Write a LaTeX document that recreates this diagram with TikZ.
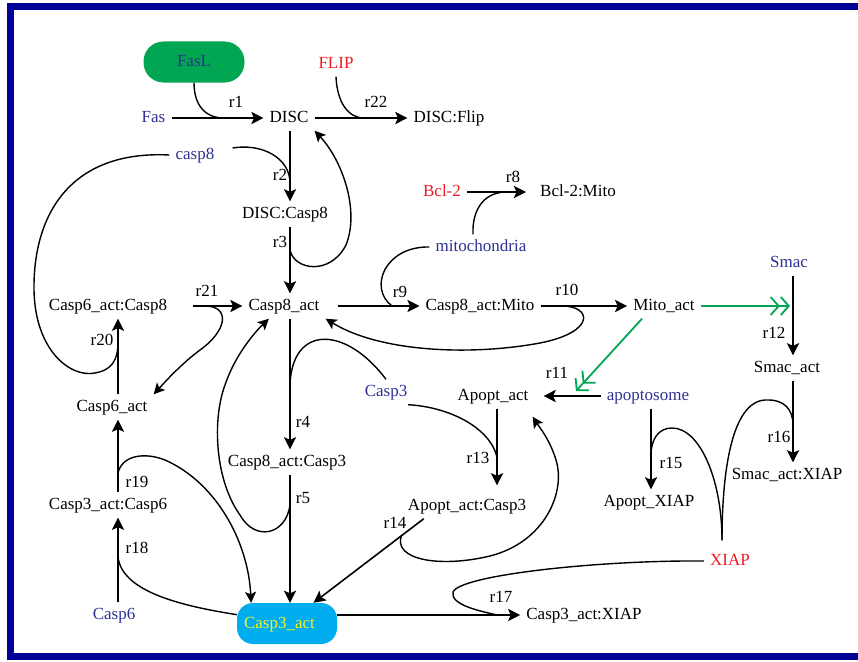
\documentclass[tikz,border=0pt]{standalone}
\usepackage{fontspec}
\setmainfont{Liberation Serif}
\usetikzlibrary{arrows.meta,calc}

\definecolor{spblue}{RGB}{46,49,146}
\definecolor{spred}{RGB}{237,28,36}
\definecolor{fasgreen}{RGB}{0,166,81}
\definecolor{casecyan}{RGB}{0,174,239}
\definecolor{caseyellow}{RGB}{245,238,40}
\definecolor{frameblue}{RGB}{0,0,153}

\newcommand\spcfont{\fontsize{17}{20}\selectfont}
\newcommand\reactwidth{2.4pt}
\newcommand\sidewidth{1.4pt}

\tikzset{
  spc/.style={inner xsep=6pt, inner ysep=5pt, text height=12pt, text depth=3pt, font=\spcfont},
  spcblue/.style={spc, text=spblue},
  spcred/.style={spc, text=spred},
  rlab/.style={inner sep=1pt, font=\spcfont},
  react/.style={line width=\reactwidth, -{Stealth[length=12pt,width=12pt,inset=2.5pt]}},
  side/.style={line width=\sidewidth},
  sidearr/.style={side, -{Stealth[length=11pt,width=11pt,inset=2.5pt]}},
  trig/.style={line width=1.8pt, draw=fasgreen,
    -{Straight Barb[length=8pt,width=18pt,line width=1.8pt]Straight Barb[length=8pt,width=18pt,line width=1.8pt]}},
  framing/.style={line width=7pt, draw=frameblue}
}

\begin{document}
\begin{tikzpicture}[x=1pt, y=-1pt]
  \useasboundingbox (0,0) rectangle (858,661);
  \draw[framing] (858,6.5) -- (10.5,6.5) -- (10.5,656.5) -- (858,656.5);

  \node[spcblue, fill=fasgreen, rounded corners=20pt, minimum width=101pt, minimum height=41pt] (FasL) at (194,62) {FasL};
  \node[spcblue] (Fas) at (153.5,118) {Fas};
  \node[spc] (DISC) at (289,118) {DISC};
  \node[spcred] (FLIP) at (336,64) {FLIP};
  \node[spc] (DISCFlip) at (449,118) {DISC:Flip};
  \node[spcblue] (casp8) at (195,155) {casp8};
  \node[spc] (DISCCasp8) at (285,214) {DISC:Casp8};
  \node[spcred] (Bcl2) at (442,192) {Bcl-2};
  \node[spc] (Bcl2Mito) at (578,192) {Bcl-2:Mito};
  \node[spcblue] (mito) at (481,247) {mitochondria};
  \node[spc] (C6C8) at (108,306) {Casp6\_act:Casp8};
  \node[spc] (C8act) at (284,306) {Casp8\_act};
  \node[spc] (C8Mito) at (480,306) {Casp8\_act:Mito};
  \node[spc] (Mitoact) at (664,306) {Mito\_act};
  \node[spcblue] (Smac) at (789,263) {Smac};
  \node[spc] (Smacact) at (787,368) {Smac\_act};
  \node[spc] (C6act) at (112,407) {Casp6\_act};
  \node[spcblue] (Casp3) at (386,392) {Casp3};
  \node[spc] (Apoptact) at (493,396) {Apopt\_act};
  \node[spcblue] (apopto) at (648,396) {apoptosome};
  \node[spc] (C8C3) at (287,462) {Casp8\_act:Casp3};
  \node[spc] (SmacXIAP) at (787,475) {Smac\_act:XIAP};
  \node[spc] (C3C6) at (108,505) {Casp3\_act:Casp6};
  \node[spc] (ApC3) at (467,506) {Apopt\_act:Casp3};
  \node[spc] (ApXIAP) at (649,502) {Apopt\_XIAP};
  \node[spcred] (XIAP) at (730,561) {XIAP};
  \node[spcblue] (Casp6) at (114,615) {Casp6};
  \node[spc, fill=casecyan, text=caseyellow, rounded corners=16pt, inner xsep=7pt, text width=86pt, align=left, minimum height=41pt] (C3act) at (287,623.5) {Casp3\_act};
  \node[spc] (C3XIAP) at (584,615) {Casp3\_act:XIAP};

  \coordinate (colA) at (118,0);
  \coordinate (colB) at (290,0);
  \coordinate (colC) at (497,0);
  \coordinate (colD) at (651,0);
  \coordinate (colE) at (793,0);
  \coordinate (r1c) at (224,118);
  \coordinate (r22c) at (364,118);
  \coordinate (r2c) at (290,183);
  \coordinate (r3c) at (290,250);
  \coordinate (r4c) at (290,385);
  \coordinate (r5c) at (290,505);
  \coordinate (r8c) at (505,192);
  \coordinate (r9c) at (392,306);
  \coordinate (r10c) at (562,306);
  \coordinate (r11c) at (576,391);
  \coordinate (r13c) at (497,457);
  \coordinate (r14c) at (401.6,535);
  \coordinate (r15c) at (651,455);
  \coordinate (r16c) at (793,425);
  \coordinate (r17c) at (497,615);
  \coordinate (r18c) at (118,557);
  \coordinate (r19c) at (118,473);
  \coordinate (r20c) at (118,342);
  \coordinate (r21c) at (205,306);
  \coordinate (xiapj) at ($(XIAP.north)+(-8,-8)$);

  \draw[react] (Fas) -- (DISC);
  \draw[react] (DISC) -- (DISCFlip);
  \draw[react] (colB |- DISC.south) -- (colB |- DISCCasp8.north);
  \draw[react] (colB |- DISCCasp8.south) -- (colB |- C8act.north);
  \draw[react] (colB |- C8act.south) -- (colB |- C8C3.north);
  \draw[react] (colB |- C8C3.south) -- (colB |- C3act.north);
  \draw[react, shorten <=20pt] (C6C8) -- (C8act);
  \draw[react, shorten <=12pt] (C8act) -- (C8Mito);
  \draw[react] (C8Mito) -- (Mitoact);
  \draw[react, shorten >=8pt] (Bcl2) -- (Bcl2Mito);
  \draw[react, shorten >=9pt] (apopto) -- (Apoptact);
  \draw[react] (colE |- Smac.south) -- (colE |- Smacact.north);
  \draw[react, shorten >=8pt] (colC |- Apoptact.south) -- (colC |- ApC3.north);
  \draw[react, line width=1.6pt] ($(ApC3.south west)+(22,0)$) -- (C3act.38);
  \draw[react] (colD |- apopto.south) -- (colD |- ApXIAP.north);
  \draw[react] (colE |- Smacact.south) -- (colE |- SmacXIAP.north);
  \draw[react] (C3act.east |- C3XIAP) -- (C3XIAP.west);
  \draw[react] (colA |- Casp6.north) -- (colA |- C3C6.south);
  \draw[react] (colA |- C3C6.north) -- (colA |- C6act.south);
  \draw[react] (colA |- C6act.north) -- (colA |- C6C8.south);

  \draw[trig, shorten >=3pt] (Mitoact) -- (colE |- Mitoact);
  \draw[trig] (Mitoact.-150) -- (r11c);

  \draw[side] (FasL.south) .. controls (194,105) and (205,118) .. (r1c);
  \draw[side] (FLIP.south) .. controls (337,102) and (348,118) .. (r22c);
  \draw[side] ($(casp8.east)+(12,-7)$) .. controls (262,143) and (290,158) .. (r2c);
  \draw[side] (casp8.west) .. controls (70,150) and (33,215) .. (34,290)
    .. controls (35,350) and (70,378) .. (95,373) .. controls (112,370) and (118,360) .. (r20c);
  \draw[sidearr] (r3c) .. controls (294,270) and (330,276) .. (346,245)
    .. controls (360,210) and (342,160) .. (DISC.south east);
  \draw[side] ($(mito.north)+(-8,0)$) .. controls (472,212) and (482,193) .. (r8c);
  \draw[side] (mito.west) .. controls (385,246) and (368,288) .. (r9c);
  \draw[sidearr] (r10c) .. controls (592,306) and (596,332) .. (540,343)
    .. controls (470,356) and (380,352) .. (C8act.south east);
  \draw[sidearr] (r21c) .. controls (230,306) and (228,330) .. (200,350)
    .. controls (180,365) and (165,382) .. (C6act.north east);
  \draw[side] (Casp3.north) .. controls (345,325) and (292,325) .. (r4c);
  \draw[side] (Casp3.-30) .. controls (450,407) and (490,428) .. (r13c);
  \draw[sidearr] (r14c) .. controls (392,560) and (440,568) .. (490,556)
    .. controls (545,542) and (566,492) .. (556,460)
    .. controls (550,440) and (540,428) .. ($(Apoptact.south east)+(-2,8)$);
  \draw[sidearr] (r5c) .. controls (286,535) and (255,542) .. (240,515)
    .. controls (215,480) and (212,420) .. (225,385)
    .. controls (235,355) and (255,332) .. (C8act.-140);
  \draw[sidearr] (r19c) .. controls (122,455) and (145,452) .. (165,460)
    .. controls (215,482) and (248,540) .. (C3act.150);
  \draw[side] (C3act.170) .. controls (175,605) and (122,590) .. (r18c);
  \draw[side] (XIAP.west) .. controls (600,560) and (460,575) .. (453,592)
    .. controls (450,605) and (480,611) .. (r17c);
  \draw[side] (xiapj) .. controls (722,480) and (700,428) .. (672,428)
    .. controls (658,428) and (651,440) .. (r15c);
  \draw[side] (xiapj) .. controls (722,470) and (732,402) .. (765,400)
    .. controls (785,399) and (793,410) .. (r16c);

  \node[rlab] (l1) at (236,102) {r1};
  \node[rlab] (l22) at (376,102) {r22};
  \node[rlab] (l2) at (280,175) {r2};
  \node[rlab] (l3) at (280,242) {r3};
  \node[rlab] (l8) at (513,177) {r8};
  \node[rlab] (l21) at (207,291) {r21};
  \node[rlab] (l20) at (102,340) {r20};
  \node[rlab] (l9) at (400,292) {r9};
  \node[rlab] (l10) at (567,290) {r10};
  \node[rlab] (l12) at (774,333) {r12};
  \node[rlab] (l11) at (557,373) {r11};
  \node[rlab] (l4) at (303,422) {r4};
  \node[rlab] (l16) at (779,437) {r16};
  \node[rlab] (l13) at (478,458) {r13};
  \node[rlab] (l15) at (671,463) {r15};
  \node[rlab] (l19) at (137,482) {r19};
  \node[rlab] (l5) at (303,498) {r5};
  \node[rlab] (l14) at (395,523) {r14};
  \node[rlab] (l18) at (137,548) {r18};
  \node[rlab] (l17) at (501,597) {r17};
\end{tikzpicture}
\end{document}
